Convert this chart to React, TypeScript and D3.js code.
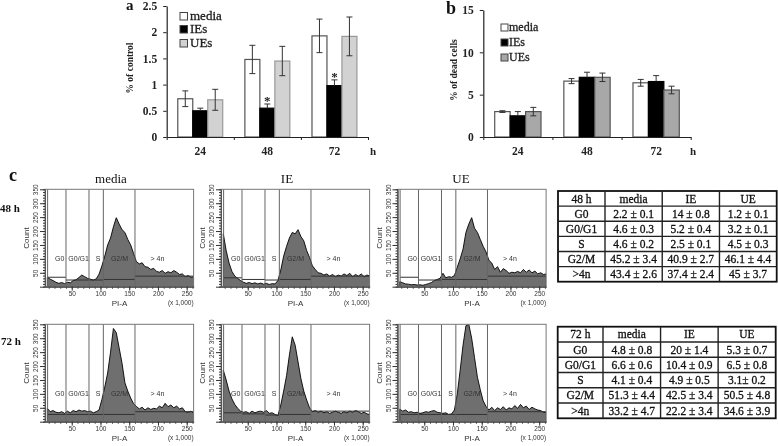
import React, { useEffect, useRef } from 'react';
import * as d3 from 'd3';

const times = ['24', '48', '72'];
const treatments = ['media', 'IEs', 'UEs'];

// panel a: % of control
const controlMedia = [0.73, 1.48, 1.93];
const controlIEs = [0.5, 0.55, 0.98];
const controlUEs = [0.71, 1.45, 1.92];
const controlMediaErr = [0.15, 0.27, 0.32];
const controlIEsErr = [0.05, 0.08, 0.11];
const controlUEsErr = [0.2, 0.28, 0.37];
const controlTicks = [0, 0.5, 1, 1.5, 2, 2.5];
const controlStars = ['48', '72'];

// panel b: % of dead cells
const deadMedia = [3.0, 6.6, 6.4];
const deadIEs = [2.5, 7.05, 6.55];
const deadUEs = [3.0, 7.05, 5.55];
const deadMediaErr = [0.1, 0.3, 0.4];
const deadIEsErr = [0.5, 0.6, 0.7];
const deadUEsErr = [0.5, 0.5, 0.45];
const deadTicks = [0, 5, 10, 15];

// panel c: PI histograms, one count every 5 units of PI-A starting at 7.5
const binStart = 7.5;
const binStep = 5;
const media48 = [
    34, 27, 22, 16, 12, 15, 11, 16, 14, 22,
    25, 33, 42, 36, 30, 27, 24, 28, 45, 75,
    110, 150, 175, 215, 248, 225, 205, 195, 170, 150,
    120, 90, 82, 86, 72, 70, 62, 66, 55, 52,
    58, 48, 54, 50, 58, 52, 44, 46, 36, 40, 34, 36,
];
const ie48 = [
    190, 130, 85, 55, 38, 30, 22, 16, 12, 15,
    11, 14, 10, 13, 9, 12, 8, 11, 10, 22,
    60, 110, 145, 175, 195, 190, 205, 180, 165, 130,
    105, 75, 62, 50, 48, 42, 46, 38, 44, 36,
    42, 38, 46, 40, 48, 36, 44, 38, 46, 36, 42, 38,
];
const ue48 = [
    18, 14, 10, 9, 7, 8, 6, 7, 5, 8,
    11, 15, 22, 26, 30, 48, 32, 36, 34, 40,
    70, 100, 135, 195, 225, 248, 210, 195, 170, 145,
    125, 95, 85, 62, 72, 52, 65, 58, 48, 52,
    50, 55, 50, 62, 52, 60, 50, 56, 46, 50, 44, 46,
];
const media72 = [
    48, 36, 40, 34, 32, 36, 30, 38, 32, 40,
    36, 42, 38, 40, 36, 38, 32, 36, 42, 80,
    125, 175, 250, 335, 320, 265, 210, 140, 110, 85,
    65, 55, 46, 52, 42, 50, 44, 48, 46, 56,
    50, 66, 54, 60, 50, 56, 46, 50, 36, 34, 38, 30,
];
const ie72 = [
    185, 150, 110, 82, 62, 48, 38, 34, 36, 30,
    38, 32, 36, 38, 34, 40, 30, 32, 26, 22,
    60, 110, 165, 240, 305, 275, 215, 155, 110, 78,
    50, 36, 40, 34, 38, 32, 36, 30, 34, 38,
    34, 30, 36, 32, 38, 34, 40, 36, 30, 34, 28, 26,
];
const ue72 = [
    45, 38, 42, 34, 36, 32, 34, 30, 32, 36,
    34, 38, 40, 34, 32, 30, 32, 26, 28, 42,
    100, 185, 275, 345, 350, 300, 230, 160, 115, 75,
    55, 42, 52, 40, 50, 44, 54, 42, 50, 46,
    58, 48, 62, 50, 56, 44, 52, 46, 42, 40, 34, 32,
];

// gate edges and the level of each gate's marker line
const gateEdges = [8, 40, 80, 105, 160, 262];
const gateNames = ['G0', 'G0/G1', 'S', 'G2/M', '> 4n'];
const gateLabelAt = [29, 62, 96, 133, 199];
const media48Levels = [34, 24, 24, 26, 38];
const ie48Levels = [32, 26, 24, 26, 38];
const ue48Levels = [34, 24, 26, 26, 38];
const media72Levels = [26, 26, 26, 26, 36];
const ie72Levels = [32, 28, 24, 26, 38];
const ue72Levels = [26, 26, 26, 26, 36];
const piTicks = [50, 100, 150, 200, 250];
const countTicks = [0, 50, 100, 150, 200, 250, 300, 350];

// tables
const tableColumns = ['media', 'IE', 'UE'];
const tableRows = ['G0', 'G0/G1', 'S', 'G2/M', '>4n'];
const table48 = [
    ['2.2 ± 0.1', '14 ± 0.8', '1.2 ± 0.1'],
    ['4.6 ± 0.3', '5.2 ± 0.4', '3.2 ± 0.1'],
    ['4.6 ± 0.2', '2.5 ± 0.1', '4.5 ± 0.3'],
    ['45.2 ± 3.4', '40.9 ± 2.7', '46.1 ± 4.4'],
    ['43.4 ± 2.6', '37.4 ± 2.4', '45 ± 3.7'],
];
const table72 = [
    ['4.8 ± 0.8', '20 ± 1.4', '5.3 ± 0.7'],
    ['6.6 ± 0.6', '10.4 ± 0.9', '6.5 ± 0.8'],
    ['4.1 ± 0.4', '4.9 ± 0.5', '3.1± 0.2'],
    ['51.3 ± 4.4', '42.5 ± 3.4', '50.5 ± 4.8'],
    ['33.2 ± 4.7', '22.2 ± 3.4', '34.6 ± 3.9'],
];

const SERIF = '"Liberation Serif", serif';
const SANS = '"Liberation Sans", sans-serif';

function Axis({ axis, transform, after }: any) {
    const ref = useRef<SVGGElement>(null);
    useEffect(() => {
        const g = d3.select(ref.current);
        g.call(axis);
        if (after) after(g);
    });
    return <g ref={ref} transform={transform} />;
}

function BarPanel({ x0, x1, yTop, yBottom, yMax, ticks, values, errors, stroke, fills, yLabel, yLabelX, yLabelY, hX, stars }: any) {
    const band = d3.scaleBand().domain(times).range([x0, x1]);
    const sub = d3.scaleBand().domain(treatments).range([0, band.bandwidth()]).paddingOuter(0.74);
    const y = d3.scaleLinear().domain([0, yMax]).range([yBottom, yTop]);
    const styleAxis = (g: any) => {
        g.select('.domain').attr('stroke', '#222').attr('stroke-width', 1.2);
        g.selectAll('.tick line').attr('stroke', '#222');
        g.selectAll('text')
            .attr('font-family', SERIF)
            .attr('font-size', 11.5)
            .attr('font-weight', 'bold')
            .attr('fill', '#222');
    };
    const boundaries = d3.scaleLinear().domain([0, times.length]).range([x0, x1]);
    return (
        <g>
            {treatments.map((t, s) =>
                times.map((time, i) => {
                    const bx = (band(time) as number) + (sub(t) as number);
                    const cx = bx + sub.bandwidth() / 2;
                    const v = values[s][i];
                    const e = errors[s][i];
                    return (
                        <g key={t + time}>
                            <rect x={bx} y={y(v)} width={sub.bandwidth()} height={yBottom - y(v)}
                                fill={fills[s]} stroke={stroke[s]} strokeWidth={1.2} />
                            <line x1={cx} x2={cx} y1={y(v + e)} y2={s === 1 ? y(v) : y(v - e)} stroke="#333" />
                            <line x1={cx - 3} x2={cx + 3} y1={y(v + e)} y2={y(v + e)} stroke="#333" />
                            {s !== 1 && <line x1={cx - 3} x2={cx + 3} y1={y(v - e)} y2={y(v - e)} stroke="#333" />}
                            {s === 1 && stars.includes(time) && (
                                <text x={cx} y={y(v + e) - 2} textAnchor="middle" fontFamily={SERIF}
                                    fontSize={13} fontWeight="bold" fill="#222" dy="0.25em">*</text>
                            )}
                        </g>
                    );
                })
            )}
            <Axis
                transform={`translate(${x0},0)`}
                axis={d3.axisLeft(y).tickValues(ticks).tickSize(3.5).tickPadding(6).tickSizeOuter(0).tickFormat(d3.format('~g') as any)}
                after={styleAxis}
            />
            <Axis
                transform={`translate(0,${yBottom})`}
                axis={d3.axisBottom(boundaries).ticks(times.length).tickSize(3).tickSizeOuter(0).tickFormat(() => '')}
                after={styleAxis}
            />
            <Axis
                transform={`translate(0,${yBottom + 10})`}
                axis={d3.axisBottom(band).tickSize(0).tickPadding(0)}
                after={(g: any) => {
                    g.select('.domain').remove();
                    styleAxis(g);
                }}
            />
            <text x={hX} y={yBottom + 18} textAnchor="middle" fontFamily={SERIF} fontSize={11}
                fontWeight="bold" fill="#222">h</text>
            <text transform={`translate(${yLabelX},${yLabelY}) rotate(-90)`} textAnchor="middle"
                fontFamily={SERIF} fontSize={9.5} fontWeight="bold" fill="#222">{yLabel}</text>
        </g>
    );
}

function Legend({ swatchX, textX, rows, size, fills, stroke, fontSize }: any) {
    return (
        <g>
            {treatments.map((t, i) => (
                <g key={t}>
                    <rect x={swatchX} y={rows[i] - size} width={size} height={size} fill={fills[i]} stroke={stroke} />
                    <text x={textX} y={rows[i]} fontFamily={SERIF} fontSize={fontSize} fill="#222" stroke="#222" strokeWidth={0.3}>{t}</text>
                </g>
            ))}
        </g>
    );
}

function FlowPlot({ id, originX, top, counts, levels }: any) {
    const height = 97.4;
    const bottom = top + height;
    const x = d3.scaleLinear().domain([0, 262]).range([originX, originX + 150.6]);
    const y = d3.scaleLinear().domain([0, 350]).range([bottom, top]);
    const left = x(3.5);
    const right = x(262);
    const area = d3.area<number>()
        .x((_, i) => x(binStart + i * binStep))
        .y0(bottom)
        .y1(d => y(d));
    const styleAxis = (g: any) => {
        g.select('.domain').attr('stroke', '#555');
        g.selectAll('.tick line').attr('stroke', '#333');
        g.selectAll('text').attr('font-family', SANS).attr('font-size', 6.5).attr('fill', '#333');
    };
    const rotateLabels = (g: any) => {
        styleAxis(g);
        g.selectAll('text')
            .attr('x', 0)
            .attr('y', -7)
            .attr('dy', 0)
            .attr('text-anchor', 'middle')
            .attr('transform', 'rotate(-90)');
    };
    return (
        <g>
            <clipPath id={id}>
                <rect x={left} y={top} width={right - left} height={height} />
            </clipPath>
            <rect x={left} y={top} width={right - left} height={height} fill="#fff" />
            <path d={area(counts) as string} fill="#6f6f6f" stroke="#000" strokeWidth={0.9} clipPath={`url(#${id})`} />
            {gateNames.map((name, i) => {
                const lx = x(gateEdges[i]);
                const rx = x(gateEdges[i + 1]);
                return (
                    <g key={name}>
                        <line x1={lx} x2={rx} y1={y(levels[i])} y2={y(levels[i])} stroke="#333" />
                        <text x={x(gateLabelAt[i])} y={y(100) + 2} textAnchor="middle" fontFamily={SANS}
                            fontSize={7} fill="#333">{name}</text>
                    </g>
                );
            })}
            {gateEdges.slice(0, -1).map(g => (
                <line key={g} x1={x(g)} x2={x(g)} y1={top} y2={bottom} stroke="#666" />
            ))}
            <rect x={left} y={top} width={right - left} height={height} fill="none" stroke="#777" />
            <Axis transform={`translate(${left},0)`}
                axis={d3.axisLeft(y).tickValues(d3.range(0, 351, 10)).tickSize(2).tickSizeOuter(0).tickFormat(() => '')}
                after={styleAxis} />
            <Axis transform={`translate(${left},0)`}
                axis={d3.axisLeft(y).tickValues(countTicks).tickSize(5).tickSizeOuter(0).tickFormat((d: any) => (d === 0 ? '' : d))}
                after={rotateLabels} />
            <Axis transform={`translate(0,${bottom})`}
                axis={d3.axisBottom(x).tickValues(d3.range(10, 261, 10)).tickSize(2).tickSizeOuter(0).tickFormat(() => '')}
                after={styleAxis} />
            <Axis transform={`translate(0,${bottom})`}
                axis={d3.axisBottom(x).tickValues(piTicks).tickSize(4).tickPadding(1).tickSizeOuter(0)}
                after={styleAxis} />
            <text x={left - 16} y={(top + bottom) / 2} textAnchor="middle" fontFamily={SANS} fontSize={8} fill="#333"
                transform={`rotate(-90 ${left - 16} ${(top + bottom) / 2})`}>Count</text>
            <text x={x(133)} y={bottom + 19} textAnchor="middle" fontFamily={SANS} fontSize={8} fill="#333">PI-A</text>
            <text x={right} y={bottom + 18} textAnchor="end" fontFamily={SANS} fontSize={6.5} fill="#333">(x 1,000)</text>
        </g>
    );
}

function CycleTable({ x0, xSplit, x1, y0, y1, corner, cells }: any) {
    const cols = d3.scaleBand().domain(tableColumns).range([xSplit, x1]);
    const rows = d3.scaleBand().domain(['head', ...tableRows]).range([y0, y1]);
    const textProps = { textAnchor: 'middle', fontFamily: SERIF, fontSize: 11.5, fill: '#111', stroke: '#111', strokeWidth: 0.3 } as any;
    const rowY = (r: string) => (rows(r) as number) + rows.bandwidth() / 2 + 4;
    return (
        <g>
            <rect x={x0} y={y0} width={x1 - x0} height={y1 - y0} fill="#fff" stroke="#111" strokeWidth={1.8} />
            {tableRows.map(r => (
                <line key={r} x1={x0} x2={x1} y1={rows(r)} y2={rows(r)} stroke="#222" strokeWidth={1.4} />
            ))}
            {[xSplit, cols('IE'), cols('UE')].map((cx: any) => (
                <line key={cx} x1={cx} x2={cx} y1={y0} y2={y1} stroke="#222" strokeWidth={1.4} />
            ))}
            <text {...textProps} x={(x0 + xSplit) / 2} y={rowY('head')}>{corner}</text>
            {tableColumns.map(c => (
                <text {...textProps} key={c} x={(cols(c) as number) + cols.bandwidth() / 2} y={rowY('head')}>{c}</text>
            ))}
            {tableRows.map((r, i) => (
                <g key={r}>
                    <text {...textProps} x={(x0 + xSplit) / 2} y={rowY(r)}>{r}</text>
                    {tableColumns.map((c, j) => (
                        <text {...textProps} key={c} x={(cols(c) as number) + cols.bandwidth() / 2} y={rowY(r)}>{cells[i][j]}</text>
                    ))}
                </g>
            ))}
        </g>
    );
}

const serifLabel = { fontFamily: SERIF, fill: '#111' } as any;

export default function App() {
    const fillsA = ['#fff', '#000', '#d2d2d2'];
    const fillsB = ['#fff', '#000', '#a8a8a8'];
    return (
        <svg width={778} height={446} style={{ position: 'absolute', left: 0, top: 0, filter: 'blur(0.35px)' }}>
            <rect width={778} height={446} fill="#fff" />

            <text {...serifLabel} x={126} y={10} fontSize={15} fontWeight="bold">a</text>
            <BarPanel x0={166.7} x1={368} yTop={6} yBottom={137} yMax={2.5} ticks={controlTicks}
                values={[controlMedia, controlIEs, controlUEs]} errors={[controlMediaErr, controlIEsErr, controlUEsErr]}
                stroke={['#555', '#000', '#999']} fills={fillsA} yLabel="% of control" yLabelX={133} yLabelY={68} hX={373} stars={controlStars} />
            <Legend swatchX={180} textX={190} rows={[20, 33, 47]} size={7.5} fills={fillsA} stroke="#444" fontSize={13} />

            <text {...serifLabel} x={446} y={14} fontSize={18} fontWeight="bold">b</text>
            <BarPanel x0={483.3} x1={690.7} yTop={10} yBottom={137} yMax={15} ticks={deadTicks}
                values={[deadMedia, deadIEs, deadUEs]} errors={[deadMediaErr, deadIEsErr, deadUEsErr]}
                stroke={['#555', '#000', '#555']} fills={fillsB} yLabel="% of dead cells" yLabelX={457} yLabelY={70} hX={693} stars={[]} />
            <Legend swatchX={501} textX={509} rows={[31, 46, 61]} size={7} fills={fillsB} stroke="#444" fontSize={12} />

            <text {...serifLabel} x={9} y={181} fontSize={18} fontWeight="bold">c</text>
            <text {...serifLabel} x={111} y={183} fontSize={13} textAnchor="middle">media</text>
            <text {...serifLabel} x={287} y={183} fontSize={13} textAnchor="middle">IE</text>
            <text {...serifLabel} x={461} y={183} fontSize={13} textAnchor="middle">UE</text>
            <text {...serifLabel} x={0} y={212} fontSize={11} fontWeight="bold">48 h</text>
            <text {...serifLabel} x={1} y={345} fontSize={11} fontWeight="bold">72 h</text>

            <FlowPlot id="c1" originX={43} top={189.3} counts={media48} levels={media48Levels} />
            <FlowPlot id="c2" originX={219} top={189.3} counts={ie48} levels={ie48Levels} />
            <FlowPlot id="c3" originX={395.5} top={189.3} counts={ue48} levels={ue48Levels} />
            <FlowPlot id="c4" originX={43} top={324.3} counts={media72} levels={media72Levels} />
            <FlowPlot id="c5" originX={219} top={324.3} counts={ie72} levels={ie72Levels} />
            <FlowPlot id="c6" originX={395.5} top={324.3} counts={ue72} levels={ue72Levels} />

            <CycleTable x0={558} xSplit={605} x1={776.7} y0={191} y1={281.7} corner="48 h" cells={table48} />
            <CycleTable x0={557.7} xSplit={603} x1={775.7} y0={326.7} y1={418.3} corner="72 h" cells={table72} />
        </svg>
    );
}
